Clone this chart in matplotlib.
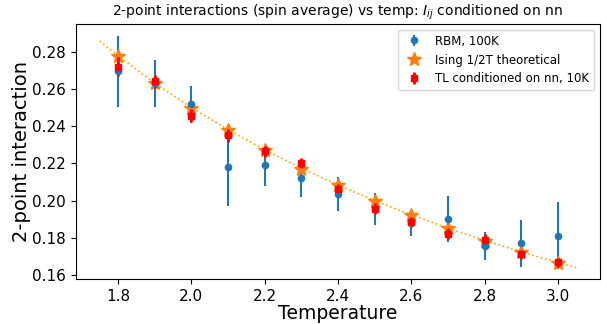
import matplotlib
matplotlib.use("Agg")
import matplotlib.pyplot as plt

temps = [1.8, 1.9, 2.0, 2.1, 2.2, 2.3, 2.4, 2.5, 2.6, 2.7, 2.8, 2.9, 3.0]

rbm_vals = [0.2694, 0.2630, 0.2517, 0.2180, 0.2190, 0.2120, 0.2035, 0.1955, 0.1880, 0.1900, 0.1755, 0.1770, 0.1812]
rbm_err = [0.0190, 0.0125, 0.0100, 0.0210, 0.0110, 0.0100, 0.0090, 0.0085, 0.0070, 0.0124, 0.0075, 0.0126, 0.0180]

theory_vals = [0.2775, 0.2630, 0.2500, 0.2380, 0.2270, 0.2172, 0.2082, 0.1998, 0.1922, 0.1850, 0.1784, 0.1722, 0.1665]

tl_vals = [0.2720, 0.2640, 0.2455, 0.2350, 0.2265, 0.2200, 0.2062, 0.1956, 0.1885, 0.1823, 0.1790, 0.1712, 0.1668]
tl_err = [0.0050, 0.0035, 0.0035, 0.0035, 0.0030, 0.0027, 0.0025, 0.0030, 0.0025, 0.0030, 0.0030, 0.0025, 0.0025]

line_t = [1.75, 1.8, 1.9, 2.0, 2.1, 2.2, 2.3, 2.4, 2.5, 2.6, 2.7, 2.8, 2.9, 3.0, 3.05]
line_v = [0.2857, 0.2778, 0.2632, 0.2500, 0.2381, 0.2273, 0.2174, 0.2083, 0.2000, 0.1923, 0.1852, 0.1786, 0.1724, 0.1667, 0.1639]

fig = plt.figure(figsize=(6.07, 3.24), dpi=100)
ax = fig.add_axes([0.125, 0.138, 0.8635, 0.788])

ax.plot(line_t, line_v, linestyle=':', color='orange', linewidth=1.2)
h_rbm = ax.errorbar(temps, rbm_vals, yerr=rbm_err, fmt='o', color='C0', markersize=4.5,
                    elinewidth=1.5, label='RBM, 100K')
h_th, = ax.plot(temps, theory_vals, '*', color='C1', markersize=10, linestyle='none',
                label='Ising 1/2T theoretical')
h_tl = ax.errorbar(temps, tl_vals, yerr=tl_err, fmt='s', color='red', markersize=4,
                   elinewidth=2, label='TL conditioned on nn, 10K')

ax.set_xlim(1.685, 3.115)
ax.set_ylim(0.1577, 0.2949)
ax.set_xticks([1.8, 2.0, 2.2, 2.4, 2.6, 2.8, 3.0])
ax.set_yticks([0.16, 0.18, 0.20, 0.22, 0.24, 0.26, 0.28])
ax.tick_params(labelsize=11)
ax.set_xlabel('Temperature', fontsize=13.5)
ax.xaxis.set_label_coords(0.5, -0.095)
ax.set_ylabel('2-point interaction', fontsize=14, labelpad=1)
ax.set_title(r'2-point interactions (spin average) vs temp: $I_{ij}$ conditioned on nn', fontsize=10)
ax.legend(handles=[h_rbm, h_th, h_tl], loc='upper right', fontsize=8.5)

fig.savefig('out.png', dpi=100)
